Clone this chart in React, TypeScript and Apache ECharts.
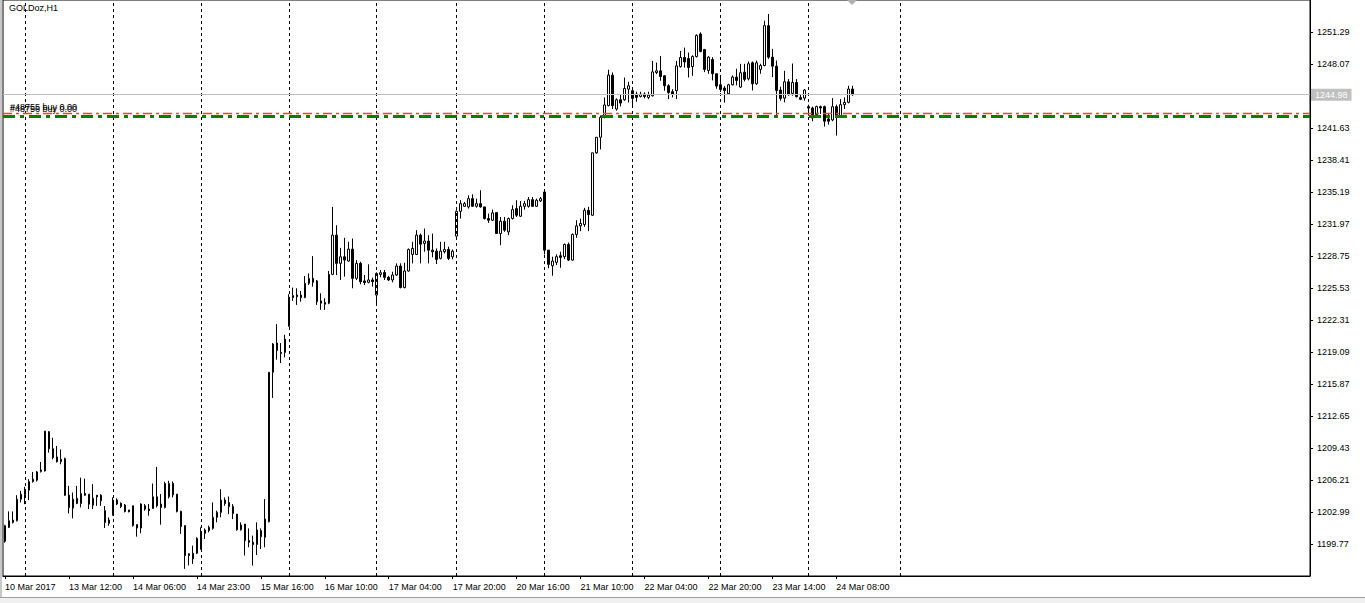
import React, { useEffect, useRef } from "react";
import * as echarts from "echarts";

// ---- data (H1 bars, GOLDoz) ----
const open = [
  1201.61, 1201.44, 1201.94, 1202.11, 1204.28, 1204.72, 1205.18, 1206.05, 1206.19, 1207.06,
  1207.12, 1211.07, 1209.36, 1208.53, 1208.06, 1208.36, 1204.68, 1203.38, 1203.85, 1203.85,
  1204.85, 1204.78, 1203.68, 1204.68, 1204.68, 1203.12, 1201.84, 1202.72, 1204.19, 1203.86,
  1203.69, 1203.19, 1203.62, 1201.72, 1201.38, 1203.29, 1203.29, 1203.35, 1204.52, 1203.79,
  1203.45, 1204.52, 1205.86, 1204.79, 1203.05, 1201.62, 1198.78, 1198.27, 1198.84, 1199.27,
  1200.84, 1201.11, 1201.35, 1202.45, 1202.95, 1204.19, 1203.95, 1203.55, 1202.78, 1201.21,
  1201.78, 1200.11, 1199.94, 1199.71, 1201.11, 1200.44, 1202.01, 1217.05, 1219.99, 1219.05,
  1219.05, 1221.66, 1224.57, 1224.83, 1224.83, 1224.57, 1226.0, 1226.5, 1226.24, 1224.23,
  1224.06, 1224.0, 1226.9, 1230.85, 1228.01, 1228.67, 1228.24, 1229.44, 1226.5, 1228.01,
  1226.24, 1226.1, 1226.34, 1224.83, 1226.9, 1227.1, 1226.6, 1226.34, 1226.84, 1227.74,
  1225.57, 1227.24, 1228.91, 1228.91, 1230.85, 1230.01, 1230.25, 1229.34, 1229.24, 1228.51,
  1229.18, 1229.41, 1228.67, 1230.75, 1233.25, 1233.75, 1233.69, 1234.52, 1233.75, 1234.02,
  1233.69, 1232.52, 1232.35, 1233.12, 1231.01, 1232.25, 1231.18, 1232.52, 1233.52, 1232.75,
  1233.75, 1233.75, 1234.42, 1233.75, 1234.29, 1235.19, 1229.34, 1227.77, 1228.11, 1228.78,
  1228.68, 1229.91, 1228.34, 1230.92, 1231.78, 1231.92, 1233.35, 1232.85, 1239.13, 1240.7,
  1242.71, 1243.88, 1246.95, 1243.54, 1244.47, 1244.47, 1245.54, 1245.38, 1245.04, 1244.81,
  1245.04, 1244.71, 1244.87, 1247.21, 1247.38, 1246.88, 1245.88, 1245.28, 1245.38, 1247.81,
  1248.72, 1248.62, 1247.81, 1248.82, 1251.09, 1249.52, 1247.42, 1248.52, 1247.09, 1245.98,
  1245.65, 1245.08, 1245.98, 1246.75, 1245.75, 1247.25, 1246.58, 1248.19, 1246.08, 1247.52,
  1247.92, 1251.93, 1248.76, 1247.85, 1245.45, 1244.64, 1246.28, 1245.11, 1246.21, 1244.71,
  1244.64, 1243.78, 1243.64, 1242.97, 1243.78, 1243.78, 1242.54, 1242.44, 1243.78, 1242.77,
  1243.98, 1244.21, 1245.55,
];
const close = [
  1200.04, 1202.11, 1202.18, 1204.28, 1204.78, 1205.18, 1206.05, 1206.29, 1207.02, 1207.22,
  1211.13, 1209.36, 1208.46, 1208.06, 1208.29, 1204.68, 1203.45, 1204.28, 1204.38, 1204.85,
  1204.68, 1203.78, 1204.38, 1204.52, 1204.12, 1201.94, 1202.18, 1204.19, 1203.79, 1203.55,
  1203.05, 1203.02, 1201.62, 1201.38, 1203.79, 1203.62, 1203.12, 1204.52, 1203.62, 1203.45,
  1205.86, 1205.86, 1204.72, 1203.05, 1201.52, 1198.61, 1198.61, 1198.84, 1200.34, 1200.88,
  1201.18, 1201.45, 1202.45, 1202.95, 1204.19, 1203.85, 1203.55, 1202.85, 1201.21, 1201.68,
  1200.11, 1199.94, 1199.71, 1201.18, 1200.51, 1202.28, 1217.05, 1219.89, 1219.25, 1218.95,
  1220.39, 1224.6, 1224.77, 1224.66, 1224.57, 1226.0, 1226.5, 1226.1, 1224.16, 1224.0,
  1223.9, 1226.9, 1230.85, 1228.01, 1228.67, 1228.34, 1229.44, 1226.5, 1228.01, 1226.17,
  1226.07, 1226.34, 1226.17, 1227.0, 1227.07, 1226.6, 1226.34, 1226.84, 1227.74, 1225.57,
  1227.24, 1229.41, 1229.51, 1230.85, 1229.94, 1230.25, 1229.34, 1229.18, 1228.41, 1229.24,
  1229.41, 1228.51, 1229.24, 1233.25, 1234.02, 1234.02, 1234.52, 1233.75, 1234.02, 1233.69,
  1232.52, 1232.35, 1233.09, 1231.01, 1232.25, 1231.35, 1232.52, 1233.42, 1232.85, 1233.75,
  1234.02, 1234.42, 1233.75, 1234.36, 1234.52, 1229.34, 1227.91, 1228.24, 1228.68, 1228.61,
  1229.91, 1228.34, 1230.92, 1231.78, 1232.02, 1233.35, 1232.92, 1239.13, 1240.7, 1242.71,
  1243.95, 1246.95, 1243.88, 1244.47, 1244.14, 1245.61, 1245.88, 1244.61, 1244.71, 1245.04,
  1244.81, 1244.94, 1247.28, 1247.38, 1246.81, 1245.88, 1245.21, 1245.04, 1247.88, 1248.72,
  1248.28, 1247.71, 1248.82, 1250.95, 1249.32, 1247.52, 1248.76, 1247.09, 1245.85, 1245.51,
  1245.41, 1245.98, 1246.75, 1246.42, 1247.19, 1246.52, 1248.09, 1246.08, 1248.19, 1247.92,
  1251.93, 1248.76, 1247.85, 1245.41, 1244.61, 1246.28, 1244.98, 1246.21, 1244.78, 1244.51,
  1245.45, 1243.64, 1242.64, 1243.78, 1243.64, 1242.31, 1242.31, 1243.78, 1242.71, 1243.98,
  1244.21, 1245.55, 1244.98,
];
const low = [
  1199.9, 1201.38, 1201.84, 1202.04, 1203.95, 1203.78, 1204.18, 1205.95, 1206.05, 1206.96,
  1207.06, 1208.96, 1208.29, 1207.96, 1207.79, 1204.62, 1202.85, 1202.35, 1203.78, 1203.45,
  1204.62, 1203.28, 1203.28, 1203.61, 1203.61, 1201.38, 1201.61, 1202.62, 1203.69, 1203.39,
  1202.95, 1202.95, 1201.52, 1200.51, 1200.85, 1203.12, 1202.62, 1203.29, 1203.45, 1201.72,
  1203.35, 1204.36, 1204.46, 1202.95, 1200.78, 1197.27, 1197.61, 1197.77, 1198.77, 1199.21,
  1200.28, 1200.94, 1201.21, 1201.95, 1202.45, 1203.62, 1202.78, 1202.28, 1201.11, 1201.11,
  1198.61, 1199.44, 1197.6, 1198.67, 1199.27, 1199.44, 1201.95, 1214.47, 1218.32, 1217.98,
  1218.55, 1221.66, 1224.23, 1223.83, 1224.16, 1224.5, 1225.83, 1225.67, 1223.83, 1223.33,
  1223.33, 1223.9, 1226.84, 1226.84, 1226.34, 1226.67, 1228.17, 1225.5, 1226.34, 1225.9,
  1225.83, 1226.0, 1225.67, 1223.83, 1226.6, 1226.34, 1226.24, 1226.1, 1226.74, 1225.5,
  1225.5, 1227.17, 1228.01, 1228.84, 1228.01, 1229.18, 1228.01, 1228.61, 1227.94, 1228.41,
  1229.01, 1228.34, 1228.41, 1230.68, 1232.52, 1233.69, 1233.52, 1233.69, 1233.62, 1233.62,
  1232.42, 1232.08, 1232.28, 1231.01, 1229.84, 1231.18, 1230.85, 1232.42, 1232.68, 1232.68,
  1233.42, 1233.62, 1233.69, 1233.69, 1234.19, 1228.9, 1227.51, 1226.77, 1227.84, 1227.57,
  1228.44, 1228.24, 1228.28, 1230.58, 1231.25, 1231.68, 1231.25, 1232.79, 1239.03, 1239.47,
  1242.61, 1243.81, 1243.54, 1243.38, 1243.8, 1244.37, 1244.2, 1243.87, 1244.27, 1244.71,
  1244.61, 1244.54, 1244.81, 1247.05, 1246.38, 1245.38, 1244.54, 1244.71, 1244.54, 1247.71,
  1247.71, 1246.71, 1246.88, 1248.72, 1249.26, 1247.25, 1247.09, 1246.42, 1245.58, 1245.25,
  1244.18, 1244.98, 1245.92, 1245.92, 1245.65, 1246.32, 1246.42, 1245.41, 1245.98, 1247.09,
  1247.85, 1248.59, 1246.75, 1242.74, 1244.38, 1244.21, 1244.88, 1244.88, 1244.71, 1244.44,
  1244.38, 1242.87, 1242.31, 1242.87, 1243.04, 1241.77, 1241.97, 1242.31, 1240.87, 1242.71,
  1243.54, 1244.11, 1244.88,
];
const high = [
  1201.7, 1203.05, 1203.05, 1204.68, 1205.12, 1205.52, 1206.29, 1207.02, 1207.12, 1208.02,
  1211.13, 1211.13, 1210.46, 1209.63, 1209.29, 1208.46, 1205.62, 1204.95, 1205.62, 1206.45,
  1206.35, 1204.78, 1205.79, 1204.68, 1204.78, 1203.6, 1202.45, 1204.46, 1204.36, 1203.96,
  1203.79, 1203.19, 1203.62, 1201.72, 1203.86, 1203.79, 1203.79, 1205.86, 1207.53, 1204.79,
  1206.03, 1206.13, 1206.06, 1204.79, 1203.12, 1201.62, 1198.84, 1199.61, 1200.44, 1201.45,
  1201.34, 1201.61, 1203.95, 1203.12, 1205.29, 1204.45, 1204.55, 1203.78, 1202.78, 1201.95,
  1201.78, 1201.34, 1200.61, 1201.95, 1201.34, 1204.29, 1217.05, 1219.99, 1221.89, 1219.99,
  1220.82, 1224.9, 1225.57, 1225.5, 1225.23, 1226.74, 1227.0, 1228.74, 1226.34, 1225.0,
  1224.5, 1227.24, 1233.69, 1231.85, 1229.57, 1230.58, 1230.18, 1230.51, 1228.34, 1228.17,
  1226.84, 1227.91, 1226.57, 1227.1, 1227.34, 1227.34, 1226.74, 1227.17, 1228.01, 1228.01,
  1228.07, 1229.51, 1230.18, 1231.35, 1231.01, 1231.51, 1230.85, 1231.01, 1229.51, 1230.18,
  1230.18, 1229.68, 1229.41, 1233.35, 1234.36, 1234.19, 1234.86, 1234.96, 1234.52, 1235.36,
  1233.69, 1233.02, 1233.42, 1233.12, 1232.68, 1232.68, 1232.62, 1233.85, 1234.36, 1234.29,
  1234.29, 1234.69, 1234.69, 1234.52, 1234.69, 1235.36, 1229.34, 1228.68, 1228.91, 1229.18,
  1230.01, 1230.11, 1231.02, 1232.35, 1232.52, 1233.59, 1233.69, 1239.13, 1240.7, 1242.88,
  1244.71, 1247.49, 1247.22, 1244.61, 1245.04, 1246.71, 1246.28, 1245.71, 1245.28, 1245.28,
  1245.21, 1245.28, 1248.38, 1248.21, 1248.88, 1246.94, 1246.04, 1245.54, 1248.38, 1249.38,
  1249.72, 1249.22, 1248.95, 1251.05, 1251.26, 1249.59, 1248.86, 1248.76, 1247.09, 1246.75,
  1245.85, 1246.08, 1246.92, 1247.59, 1248.09, 1248.09, 1248.32, 1248.32, 1248.42, 1248.09,
  1252.43, 1253.1, 1249.59, 1248.42, 1245.78, 1247.38, 1246.55, 1248.12, 1246.55, 1245.05,
  1245.55, 1243.98, 1243.78, 1243.88, 1243.88, 1243.88, 1243.04, 1244.64, 1243.98, 1244.54,
  1244.71, 1245.88, 1245.88,
];

// time axis: slots (bars plus empty space on the right), labelled bars
const slotCount = 327;
const tickBars = [0, 16, 32, 48, 64, 80, 96, 112, 128, 144, 160, 176, 192, 208];
const tickLabels = [
  "10 Mar 2017", "13 Mar 12:00", "14 Mar 06:00", "14 Mar 23:00", "15 Mar 16:00",
  "16 Mar 10:00", "17 Mar 04:00", "17 Mar 20:00", "20 Mar 16:00", "21 Mar 10:00",
  "22 Mar 04:00", "22 Mar 20:00", "23 Mar 14:00", "24 Mar 08:00",
];
const separatorBars = [5, 27, 49, 71, 93, 113, 135, 157, 179, 201, 224];

// price axis
const priceMin = 1196.55;
const priceStep = 3.22;
const priceMax = 1254.51;

// levels
const bidPrice = 1244.98;
const stopLevel = 1243.1;
const orderLevel = 1242.78;
const orderTexts = ["#48755 buy 0.00", "#48756 buy 0.00"];
const title = "GOLDoz,H1";

const FONT = "'Liberation Sans', Arial, sans-serif";

export default function App() {
  const ref = useRef<HTMLDivElement>(null);

  useEffect(() => {
    document.body.style.margin = "0";
    const chart = echarts.init(ref.current as HTMLDivElement, null, { renderer: "svg" });
    const slots = Array.from({ length: slotCount }, (_, i) => String(i));
    const labelMap: Record<number, string> = {};
    tickBars.forEach((b, k) => (labelMap[b] = tickLabels[k]));
    const tickSet = new Set(tickBars);
    const candles = open.map((o, i) => [o, close[i], low[i], high[i]]);

    chart.setOption({
      animation: false,
      backgroundColor: "#ffffff",
      grid: {
        left: 3,
        right: 55,
        top: -2,
        bottom: 27,
        show: true,
        borderColor: "#000",
        borderWidth: 1,
        backgroundColor: "transparent",
      },
      xAxis: {
        type: "category",
        data: slots,
        boundaryGap: true,
        axisLine: { show: true, lineStyle: { color: "#000", width: 1 } },
        axisTick: {
          show: true,
          alignWithLabel: true,
          interval: (i: number) => tickSet.has(i),
          length: 3,
          lineStyle: { color: "#000" },
        },
        axisLabel: {
          interval: (i: number) => tickSet.has(i),
          formatter: (_v: string, i: number) => labelMap[i] ?? "",
          align: "left",
          margin: 6,
          color: "#000",
          fontFamily: FONT,
          fontSize: 9,
        },
        splitLine: { show: false },
      },
      yAxis: {
        type: "value",
        position: "right",
        min: priceMin,
        max: priceMax,
        interval: priceStep,
        axisLine: { show: true, lineStyle: { color: "#000", width: 1 } },
        axisTick: { show: true, length: 3, lineStyle: { color: "#000" } },
        axisLabel: {
          showMinLabel: false,
          showMaxLabel: false,
          margin: 7,
          color: "#000",
          fontFamily: FONT,
          fontSize: 9,
          formatter: (v: number) => (Math.abs(v - bidPrice) < 0.5 ? "" : v.toFixed(2)),
        },
        splitLine: { show: false },
      },
      series: [
        {
          type: "candlestick",
          data: candles,
          barWidth: 2,
          z: 2,
          itemStyle: {
            color: "#ffffff",
            color0: "#000000",
            borderColor: "#000000",
            borderColor0: "#000000",
            borderWidth: 1,
          },
          markLine: {
            silent: true,
            symbol: ["none", "none"],
            animation: false,
            label: { show: false },
            data: [
              ...separatorBars.map((b) => ({
                xAxis: String(b),
                lineStyle: { color: "#000", type: [3, 3], width: 1 },
                label: { show: false },
              })),
              {
                yAxis: bidPrice,
                lineStyle: { color: "#c0c0c0", type: "solid", width: 1 },
                label: {
                  show: true,
                  position: "end",
                  distance: 1,
                  formatter: bidPrice.toFixed(2),
                  backgroundColor: "#c0c0c0",
                  color: "#ffffff",
                  padding: [2, 4, 1, 4],
                  fontFamily: FONT,
                  fontSize: 9,
                },
              },
            ],
          },
        },
        {
          type: "line",
          data: [],
          z: 3,
          silent: true,
          markLine: {
            silent: true,
            symbol: ["none", "none"],
            animation: false,
            label: { show: false },
            data: [
              {
                yAxis: stopLevel,
                lineStyle: { color: "#ff4500", type: [9, 4, 3, 4], width: 1.3, opacity: 1 },
                label: { show: false },
              },
              {
                yAxis: orderLevel,
                lineStyle: { color: "#008000", type: [12, 5, 4, 5], width: 3, opacity: 1 },
                label: { show: false },
              },
            ],
          },
        },
      ],
      graphic: [
        { type: "rect", left: 0, top: 0, shape: { width: 2, height: 598 }, style: { fill: "#c8c8c8" }, z: 10 },
        { type: "rect", left: 0, top: 598, shape: { width: 1365, height: 5 }, style: { fill: "#f0f0f0" }, z: 10 },
        { type: "rect", left: 0, top: 597, shape: { width: 1365, height: 1 }, style: { fill: "#a0a0a0" }, z: 10 },
        {
          type: "polygon",
          shape: { points: [[847, 0], [857, 0], [852, 5]] },
          style: { fill: "#b0b0b0" },
          z: 10,
        },
        {
          type: "text",
          left: 9,
          top: 3,
          style: { text: title, fill: "#000", font: `9px ${FONT}` },
          z: 10,
        },
        {
          type: "text",
          left: 10,
          top: 102,
          style: { text: orderTexts[0], fill: "#000", font: `9px ${FONT}` },
          z: 10,
        },
        {
          type: "text",
          left: 10,
          top: 104,
          style: { text: orderTexts[1], fill: "#000", font: `9px ${FONT}` },
          z: 10,
        },
      ],
    });
    return () => chart.dispose();
  }, []);

  return <div ref={ref} style={{ width: 1365, height: 603 }} />;
}
